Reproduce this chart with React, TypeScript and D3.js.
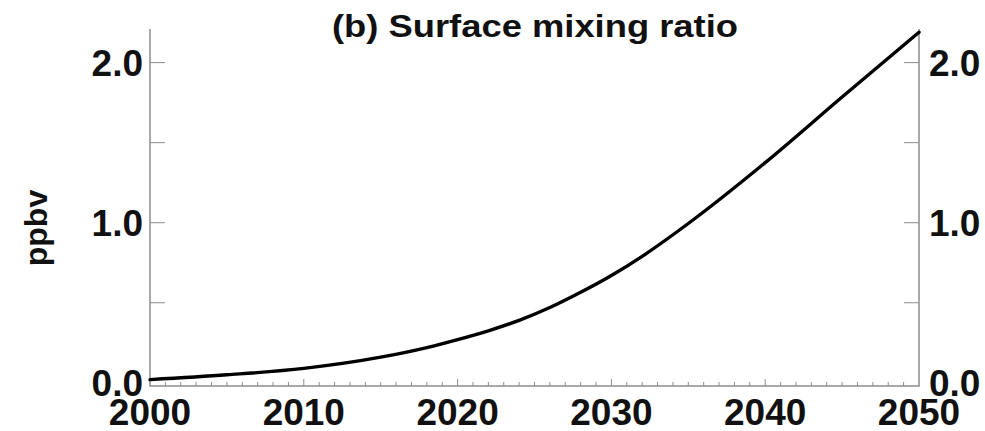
import * as d3 from "d3"
import { useRef, useEffect } from "react"

const years = [2000, 2005, 2010, 2015, 2018, 2020, 2022, 2024, 2026, 2028, 2030, 2032, 2035, 2040, 2045, 2050]
const mixingRatio = [0.02, 0.05, 0.09, 0.16, 0.22, 0.27, 0.325, 0.39, 0.47, 0.565, 0.67, 0.79, 0.995, 1.375, 1.785, 2.19]
const xTickYears = [2000, 2010, 2020, 2030, 2040, 2050]
const yTickValues = [0.0, 1.0, 2.0]
const yMinorValues = [0.5, 1.0, 1.5, 2.0]

export default function App() {
  const svgRef = useRef<SVGSVGElement>(null)

  useEffect(() => {
    if (!svgRef.current) return
    const width = 985
    const height = 431
    const left = 150
    const right = 919
    const top = 29
    const bottom = 386

    const svg = d3.select(svgRef.current)
    svg.selectAll("*").remove()

    const x = d3.scaleLinear().domain([2000, 2050]).range([left, right])
    const y = d3.scaleLinear().domain([-0.02, 2.21]).range([bottom, top])

    const font = "'Liberation Sans', Arial, Helvetica, sans-serif"
    const axisColor = "#8c8c8c"

    // minor + major year ticks along the bottom, pointing inward
    const g = svg.append("g")
    g.selectAll("line.xminor")
      .data(d3.range(2001, 2050))
      .enter()
      .append("line")
      .attr("x1", (d) => x(d))
      .attr("x2", (d) => x(d))
      .attr("y1", bottom)
      .attr("y2", (d) => bottom - (d % 10 === 0 ? 7 : 4))
      .attr("stroke", axisColor)
      .attr("stroke-width", 1)

    // y ticks on both sides
    g.selectAll("line.yl")
      .data(yMinorValues)
      .enter()
      .append("line")
      .attr("x1", left)
      .attr("x2", left + 15)
      .attr("y1", (d) => y(d))
      .attr("y2", (d) => y(d))
      .attr("stroke", axisColor)
      .attr("stroke-width", 1)
    g.selectAll("line.yr")
      .data(yMinorValues)
      .enter()
      .append("line")
      .attr("x1", right)
      .attr("x2", right - 15)
      .attr("y1", (d) => y(d))
      .attr("y2", (d) => y(d))
      .attr("stroke", axisColor)
      .attr("stroke-width", 1)

    // frame: left, bottom, right
    g.append("path")
      .attr("d", `M${left},${top}V${bottom}H${right}V${top}`)
      .attr("fill", "none")
      .attr("stroke", axisColor)
      .attr("stroke-width", 1.5)

    const line = d3
      .line<number>()
      .x((_, i) => x(years[i]))
      .y((d) => y(d))
      .curve(d3.curveMonotoneX)

    svg.append("path")
      .datum(mixingRatio)
      .attr("d", line)
      .attr("fill", "none")
      .attr("stroke", "#000")
      .attr("stroke-width", 3.4)
      .attr("stroke-linecap", "round")

    const labels = svg.append("g").attr("font-family", font).attr("font-weight", "bold").attr("fill", "#111")

    labels.selectAll("text.xl")
      .data(xTickYears)
      .enter()
      .append("text")
      .attr("x", (d) => x(d))
      .attr("y", 425)
      .attr("text-anchor", "middle")
      .attr("font-size", 37)
      .text((d) => String(d))

    labels.selectAll("text.yl")
      .data(yTickValues)
      .enter()
      .append("text")
      .attr("x", left - 7)
      .attr("y", (d) => y(d) + 13)
      .attr("text-anchor", "end")
      .attr("font-size", 37)
      .text((d) => d.toFixed(1))

    labels.selectAll("text.yr")
      .data(yTickValues)
      .enter()
      .append("text")
      .attr("x", right + 10)
      .attr("y", (d) => y(d) + 13)
      .attr("text-anchor", "start")
      .attr("font-size", 37)
      .text((d) => d.toFixed(1))

    labels.append("text")
      .attr("x", 535)
      .attr("y", 37)
      .attr("text-anchor", "middle")
      .attr("font-size", 32)
      .attr("textLength", 406)
      .attr("lengthAdjust", "spacingAndGlyphs")
      .text("(b) Surface mixing ratio")

    labels.append("text")
      .attr("transform", `translate(47,228) rotate(-90)`)
      .attr("text-anchor", "middle")
      .attr("font-size", 32)
      .text("ppbv")

    svg.attr("width", width).attr("height", height).attr("viewBox", `0 0 ${width} ${height}`)
  }, [])

  return (
    <div style={{ position: "absolute", left: 0, top: 0 }}>
      <svg ref={svgRef} style={{ display: "block", background: "#fff" }}></svg>
    </div>
  )
}
